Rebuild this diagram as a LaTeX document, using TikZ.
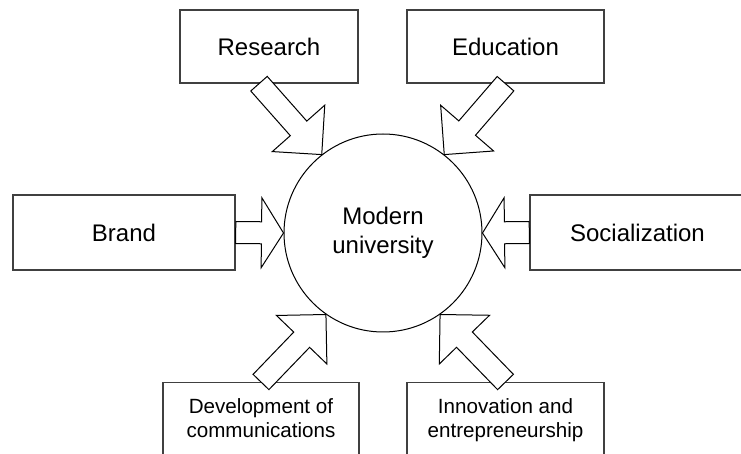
\documentclass[tikz,border=0pt]{standalone}
\usepackage{fontspec}
\setmainfont{Liberation Sans}
\usetikzlibrary{calc,positioning}

\tikzset{
    head len/.store in=\headlen, head len=11pt,
    box/.style={draw=black!75, line width=0.7pt, rectangle, inner sep=0pt,
        font=\fontsize{12}{14.5}\selectfont},
    boxtext/.style={inner sep=0pt, align=center, font=\fontsize{10.3}{12.3}\selectfont},
    blockarrow/.style={draw, line width=0.5pt, fill=white, line join=miter,
        to path={let \p1=($(\tikztotarget)!\headlen!(\tikztostart)$) in
            ($(\tikztostart)!5.5pt!90:(\tikztotarget)$)
            -- ($(\p1)!5.5pt!90:(\tikztotarget)$)
            -- ($(\p1)!17.5pt!90:(\tikztotarget)$)
            -- (\tikztotarget)
            -- ($(\p1)!17.5pt!-90:(\tikztotarget)$)
            -- ($(\p1)!5.5pt!-90:(\tikztotarget)$)
            -- ($(\tikztostart)!5.5pt!-90:(\tikztotarget)$)
            -- cycle}}
}

\begin{document}
\begin{tikzpicture}[x=0.5pt, y=-0.5pt]

        \useasboundingbox (0,0) rectangle (741,454);
        \clip (0,0) rectangle (741,454);

        % University
        \node[draw, circle, line width=0.5pt, minimum size=99pt, inner sep=0pt, align=center,
            font=\fontsize{12}{14.5}\selectfont] (uni) at (383,233) {Modern\\university};

        % Top and side boxes
        \node[box, minimum width=89pt, minimum height=36.5pt] (research) at (269,46.5) {Research};
        \node[box, minimum width=98.5pt, minimum height=36.5pt] (education) at (505.5,46.5) {Education};
        \node[box, minimum width=111pt, minimum height=37.5pt] (brand) at (124,232.5) {Brand};
        \node[box, minimum width=107.5pt, minimum height=37.5pt] (social) at (637.5,232.5) {Socialization};

        % Bottom boxes (cut by the page edge)
        \node[box, minimum width=98pt, minimum height=50pt, anchor=north] (devcom) at (261,382) {};
        \node[box, minimum width=98.5pt, minimum height=50pt, anchor=north] (innov) at (505.5,382) {};
        \node[boxtext, below=8pt of devcom.north] (devtext) {Development of\\communications};
        \node[boxtext, below=8pt of innov.north] (innovtext) {Innovation and\\entrepreneurship};

        % Arrows
        \draw[blockarrow] (brand.east) to (uni.west);
        \draw[blockarrow] (social.west) to (uni.east);
        \draw[blockarrow, head len=17.5pt] ([xshift=-5pt]research.south) to (uni.128);
        \draw[blockarrow, head len=17.5pt] (education.south) to (uni.52);
        \draw[blockarrow, head len=17.5pt] (devcom.north) to (uni.235);
        \draw[blockarrow, head len=17.5pt] (innov.north) to (uni.305);

\end{tikzpicture}
\end{document}
